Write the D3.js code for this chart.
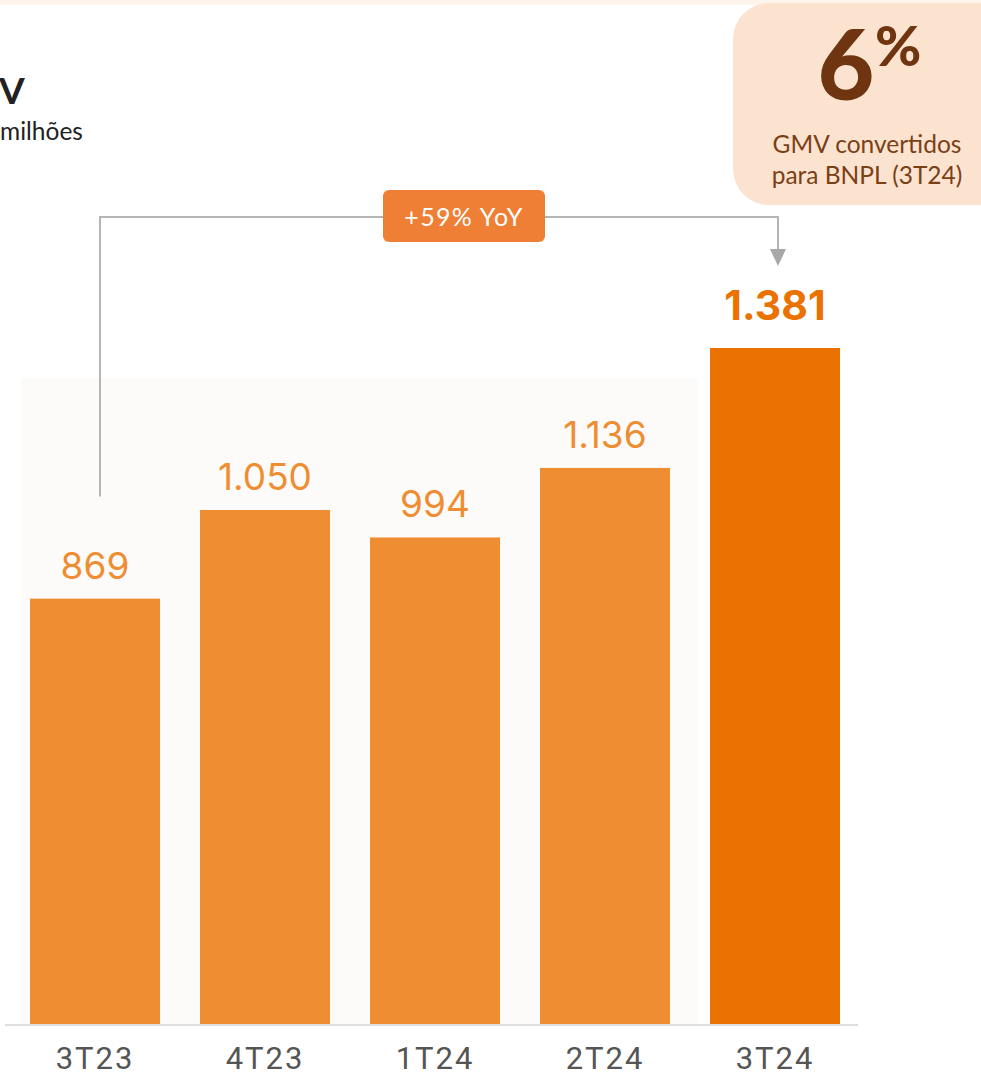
<!DOCTYPE html>
<html>
<head>
<meta charset="utf-8">
<script src="https://cdn.jsdelivr.net/npm/d3@7"></script>
<style>
  html, body { margin: 0; padding: 0; background: #fff; }
  svg { display: block; }
</style>
</head>
<body>
<svg id="chart" width="981" height="1081"></svg>
<script>
// GMV por trimestre (R$ milhões) — the title is cut at the left edge in the source
const quarters = ['3T23', '4T23', '1T24', '2T24', '3T24'];
const gmv = [869, 1050, 994, 1136, 1381];
const valueLabels = ['869', '1.050', '994', '1.136', '1.381'];
const titleText = 'V';
const subtitleText = 'milhões';
const yoyLabel = '+59% YoY';
const highlightPct = '6';
const highlightText = ['GMV convertidos', 'para BNPL (3T24)'];

const W = 981, H = 1081;
const svg = d3.select('#chart');

const x = d3.scaleBand().domain(quarters).range([30, 840]).paddingInner(40 / 170).paddingOuter(0);
const y = d3.scaleLinear().domain([0, d3.max(gmv)]).range([1024, 348]);
const last = quarters.length - 1;

// thin peach strip along the top edge
svg.append('rect').attr('x', 0).attr('y', 0).attr('width', W).attr('height', 5).attr('fill', '#fdf4ec');

// faint plot background (stops before the highlighted bar)
svg.append('rect')
  .attr('x', 21).attr('y', 378)
  .attr('width', x(quarters[last]) - 12 - 21).attr('height', 1024 - 378)
  .attr('fill', '#fdfbfa');

// title
svg.append('text').attr('x', -1).attr('y', 104)
  .style('font-family', 'Lato, sans-serif').style('font-weight', 700)
  .style('font-size', '37px').style('fill', '#222').text(titleText);
svg.append('text').attr('x', 0).attr('y', 140)
  .style('font-family', 'Lato, sans-serif').style('font-weight', 400)
  .style('font-size', '24.5px').style('fill', '#222').text(subtitleText);

// bars
svg.append('g').selectAll('rect').data(quarters).enter().append('rect')
  .attr('x', d => x(d))
  .attr('y', (d, i) => y(gmv[i]))
  .attr('width', x.bandwidth())
  .attr('height', (d, i) => y(0) - y(gmv[i]))
  .attr('fill', (d, i) => i === last ? '#eb7200' : '#ee8d31');

// baseline
svg.append('line').attr('x1', 5).attr('x2', 858).attr('y1', 1025).attr('y2', 1025)
  .attr('stroke', '#dedede').attr('stroke-width', 2);

// value labels
svg.append('g').selectAll('text').data(quarters).enter().append('text')
  .attr('x', d => x(d) + x.bandwidth() / 2)
  .attr('y', (d, i) => y(gmv[i]) - (i === last ? 28 : 20))
  .attr('text-anchor', 'middle')
  .style('font-family', 'Inter, Roboto, sans-serif')
  .style('font-weight', (d, i) => i === last ? 700 : 400)
  .style('font-size', (d, i) => i === last ? '41px' : '37px')
  .style('fill', (d, i) => i === last ? '#eb7200' : '#ee8d31')
  .text((d, i) => valueLabels[i]);

// x axis tick labels
const xAxis = d3.axisBottom(x).tickSize(0).tickPadding(0);
const gx = svg.append('g').attr('transform', 'translate(0,1047)').call(xAxis);
gx.select('.domain').remove();
gx.selectAll('text')
  .attr('dy', '0.71em')
  .style('font-family', 'Roboto, sans-serif').style('font-size', '31px')
  .style('letter-spacing', '2px').style('fill', '#555');

// YoY connector: from first bar up, across, down to last bar
const x0 = x(quarters[0]) + x.bandwidth() / 2 + 5;
const x1 = x(quarters[last]) + x.bandwidth() / 2 + 3;
const lineY = 217;
svg.append('path')
  .attr('d', `M${x0},${y(gmv[0]) - 102}V${lineY}H${x1}V250`)
  .attr('fill', 'none').attr('stroke', '#b5b5b5').attr('stroke-width', 2);
svg.append('path')
  .attr('d', `M${x1 - 8},249L${x1 + 8},249L${x1},266Z`)
  .attr('fill', '#a8a8a8');

const boxW = 162, boxH = 52, boxCx = 464;
svg.append('rect').attr('x', boxCx - boxW / 2).attr('y', lineY - boxH / 2 - 1)
  .attr('width', boxW).attr('height', boxH).attr('rx', 6)
  .attr('fill', '#ee7f35');
svg.append('text').attr('x', boxCx).attr('y', lineY + 9).attr('text-anchor', 'middle')
  .style('font-family', 'Lato, sans-serif').style('font-size', '25px')
  .style('letter-spacing', '1.3px').style('fill', '#fff').text(yoyLabel);

// highlight card, top right
svg.append('rect').attr('x', 733).attr('y', 3).attr('width', 290).attr('height', 202)
  .attr('rx', 36).attr('fill', '#fbe3cf');
svg.append('text').attr('x', 846).attr('y', 100).attr('text-anchor', 'middle')
  .style('font-family', 'Lato, sans-serif').style('font-weight', 900)
  .style('font-size', '98px').style('fill', '#6e3510').text(highlightPct);
svg.append('text').attr('x', 875).attr('y', 66)
  .style('font-family', 'Lato, sans-serif').style('font-weight', 900)
  .style('font-size', '56px').style('fill', '#6e3510').text('%');
svg.append('g').selectAll('text').data(highlightText).enter().append('text')
  .attr('x', 867).attr('y', (d, i) => 153 + i * 31).attr('text-anchor', 'middle')
  .style('font-family', 'Lato, sans-serif').style('font-size', '24.5px')
  .style('fill', '#7b3f16').text(d => d);
</script>
</body>
</html>
